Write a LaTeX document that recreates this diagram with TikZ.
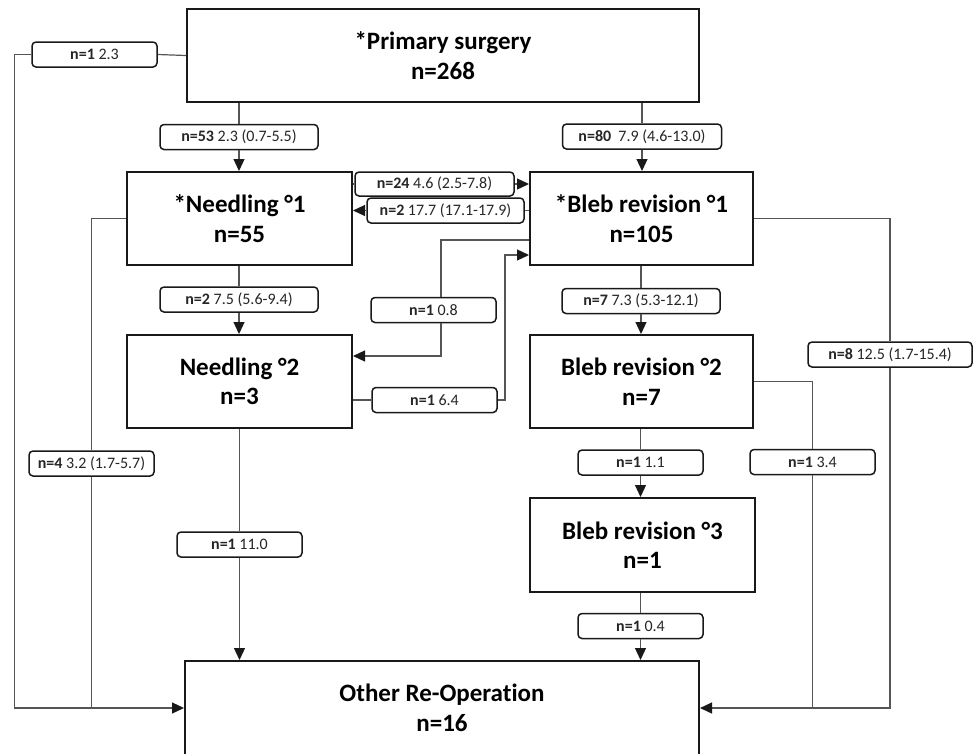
\documentclass[tikz,border=0pt]{standalone}
\usepackage{fontspec}
\setmainfont{Carlito}[Ligatures=NoCommon]
\usetikzlibrary{arrows.meta}
\definecolor{conncol}{HTML}{555555}
\definecolor{lbltxt}{HTML}{262626}
\begin{document}
\begin{tikzpicture}[x=1pt,y=-1pt,
  mainbox/.style={draw=black!90,line width=2pt,fill=white,inner sep=0pt,align=center,
    font=\fontsize{25}{29.5}\selectfont\bfseries,minimum height=93pt},
  lbl/.style={draw=black!90,line width=1.5pt,rounded corners=4pt,fill=white,inner sep=0pt,
    minimum height=25pt,minimum width=125pt,font=\fontsize{16}{18}\selectfont,text=lbltxt},
  conn/.style={draw=conncol,line width=1.2pt},
  arr/.style={conn,-{Triangle[length=12pt,width=11pt,color=black!90]}}
]
\useasboundingbox (0,0) rectangle (973,753);
% main boxes
\node[mainbox,minimum width=512pt] (prim) at (443,55.5) {*Primary surgery\\n=268};
\node[mainbox,minimum width=225pt] (need1) at (239.5,218.5) {*Needling °1\\n=55};
\node[mainbox,minimum width=223pt] (bleb1) at (641.5,218.5) {*Bleb revision °1\\n=105};
\node[mainbox,minimum width=225pt] (need2) at (239.5,381.5) {Needling °2\\n=3};
\node[mainbox,minimum width=223pt] (bleb2) at (641.5,381.5) {Bleb revision °2\\n=7};
\node[mainbox,minimum width=225pt,minimum height=94pt] (bleb3) at (642.5,545) {Bleb revision °3\\n=1};
\node[mainbox,minimum width=514pt,minimum height=94pt] (other) at (442,708) {Other Re-Operation\\n=16};
% labels
\node[lbl] (l1) at (94.5,54.5) {\textbf{n=1} 2.3};
\node[lbl,minimum width=158pt] (l53) at (239,137) {\textbf{n=53} 2.3 (0.7-5.5)};
\node[lbl,minimum width=159pt] (l80) at (642,136.5) {\textbf{n=80}\ \ 7.9 (4.6-13.0)};
\node[lbl,minimum width=159pt,minimum height=24pt] (l24) at (434.5,184) {\textbf{n=24} 4.6 (2.5-7.8)};
\node[lbl,minimum width=157pt] (l2) at (445.5,210.5) {\textbf{n=2} 17.7 (17.1-17.9)};
\node[lbl] (l08) at (433.5,310) {\textbf{n=1} 0.8};
\node[lbl] (l64) at (434.5,400) {\textbf{n=1} 6.4};
\node[lbl,minimum width=158pt] (l75) at (239,299.5) {\textbf{n=2} 7.5 (5.6-9.4)};
\node[lbl,minimum width=158pt] (l73) at (641,301) {\textbf{n=7} 7.3 (5.3-12.1)};
\node[lbl,minimum width=164pt] (l8) at (890,354.5) {\textbf{n=8} 12.5 (1.7-15.4)};
\node[lbl] (l34) at (812.5,462) {\textbf{n=1} 3.4};
\node[lbl] (l11) at (640.5,462.5) {\textbf{n=1} 1.1};
\node[lbl] (l04) at (640.5,626) {\textbf{n=1} 0.4};
\node[lbl] (l4) at (91.5,463.5) {\textbf{n=4} 3.2 (1.7-5.7)};
\node[lbl] (l110) at (239.5,544.5) {\textbf{n=1} 11.0};
% helper coordinates
\coordinate (c08a) at (441,240);
\coordinate (c08b) at (441,356);
\coordinate (c64) at (505,400);
% connectors
\draw[conn] (prim.west) -- (l1.east);
\draw[arr] (l1.west) -- ++(-17,0) |- (other.west);
\draw[conn] (l53.north |- prim.south) -- (l53.north);
\draw[arr] (l53.south) -- (l53.south |- need1.north);
\draw[conn] (l80.north |- prim.south) -- (l80.north);
\draw[arr] (l80.south) -- (l80.south |- bleb1.north);
\draw[conn] (l24.west -| need1.east) -- (l24.west);
\draw[arr] (l24.east) -- (l24.east -| bleb1.west);
\draw[conn] (l2.east -| bleb1.west) -- (l2.east);
\draw[arr] (l2.west) -- (l2.west -| need1.east);
\draw[conn] (c08a -| bleb1.west) -- (c08a) -- (c08a |- l08.north);
\draw[arr] (c08b |- l08.south) -- (c08b) -- (c08b -| need2.east);
\draw[conn] (l64.west -| need2.east) -- (l64.west);
\draw[arr] (l64.east) -- (c64) |- ([yshift=-36.5pt]bleb1.west);
\draw[conn] (need1.west) -| (l4.north);
\draw[conn] (l4.south) -- (l4.south |- other.west);
\draw[conn] (l75.north |- need1.south) -- (l75.north);
\draw[arr] (l75.south) -- (l75.south |- need2.north);
\draw[conn] (l110.north |- need2.south) -- (l110.north);
\draw[arr] (l110.south) -- (l110.south |- other.north);
\draw[conn] (l73.north |- bleb1.south) -- (l73.north);
\draw[arr] (l73.south) -- (l73.south |- bleb2.north);
\draw[conn] (bleb1.east) -| (l8.north);
\draw[arr] (l8.south) |- (other.east);
\draw[conn] (bleb2.east) -| (l34.north);
\draw[conn] (l34.south) -- (l34.south |- other.east);
\draw[conn] (l11.north |- bleb2.south) -- (l11.north);
\draw[arr] (l11.south) -- (l11.south |- bleb3.north);
\draw[conn] (l04.north |- bleb3.south) -- (l04.north);
\draw[arr] (l04.south) -- (l04.south |- other.north);
\end{tikzpicture}
\end{document}
